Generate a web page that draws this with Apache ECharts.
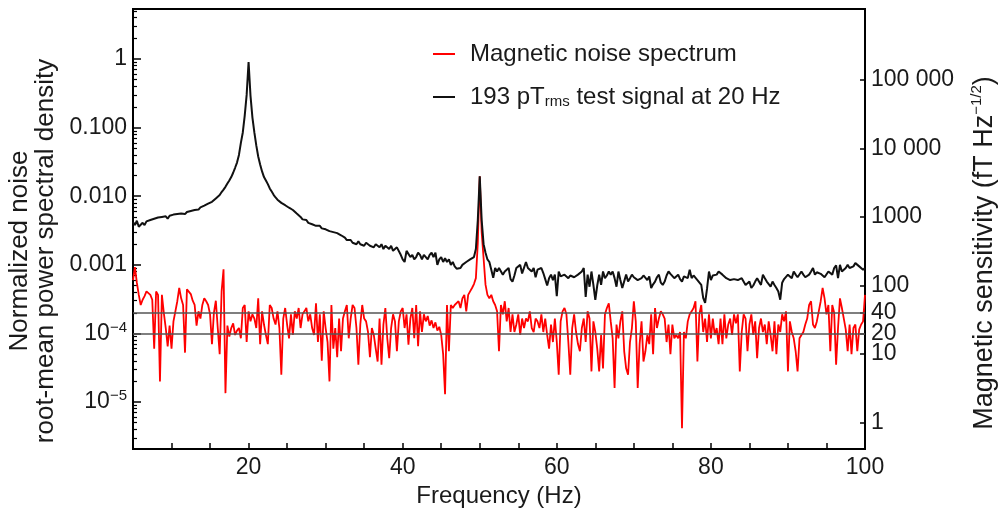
<!DOCTYPE html>
<html><head><meta charset="utf-8">
<script src="https://cdn.jsdelivr.net/npm/echarts@6/dist/echarts.min.js"></script>
<style>html,body{margin:0;padding:0;background:#fff}#c{width:998px;height:518px}</style>
</head><body><div id="c"></div>
<script>
// ---- data (frequency grid: 5 Hz to 100 Hz, 0.25 Hz spacing) ----
const FREQ_START = 5, FREQ_STEP = 0.25;
const seriesNames = ['Magnetic noise spectrum', '193 pTrms test signal at 20 Hz'];
// Magnetic noise spectrum, fT Hz^-1/2 (right axis)
const noiseFT = [
120,185,110,73,52,62,70,82,80,73,62,12,82,73,4,73,40,24,13,26,
12,30,42,59,92,65,52,10.5,88,85,75,60,52,26,42,33,52,65,59,52,
38,14,40,60,24,10,82,172,2.7,26,18,24,28,19,22,24,17,47,52,15,
42,30,38,33,24,65,14,42,27,19,14,52,47,33,27,42,24,5,33,47,
27,17,38,19,42,33,47,24,38,42,47,30,38,24,19,55,15,38,8,42,
24,15,4,52,12,24,9,33,11,33,42,52,17,33,52,47,24,7,27,52,
33,30,21,9,24,19,12,7.8,33,7,27,47,17,8.7,24,38,30,11,30,42,
47,24,38,13.7,33,47,17,52,13,42,21,38,30,36,26,31,24,29,22,25,
19,10,2.6,52,11,52,47,52,52,59,47,65,73,42,73,82,92,105,128,420,
3900,600,250,103,73,65,73,59,52,42,11,52,38,59,30,47,21,38,21,27,
38,19,33,24,33,30,42,24,21,33,30,24,38,21,33,19,12,27,15,33,
15,5,30,42,47,38,15,5,24,38,21,14,11,24,33,15,42,33,5.6,30,
21,12,5.6,19,6.2,38,47,55,30,17,3.2,27,17,30,42,11,6.2,5,15,24,
59,30,3.2,14,30,7.8,11,19,14,38,10,47,24,33,42,38,33,15,27,10,
27,17,19,17,21,0.83,21,17,30,38,42,47,59,7.8,38,52,21,33,15,38,
17,33,19,24,14,33,14,38,17,27,33,19,38,28,38,5.6,21,38,33,11,
27,38,19,30,8.7,24,33,21,27,14,30,19,11,30,10,27,21,38,30,42,
5.6,30,21,17,11,5.6,17,19,21,27,33,52,59,27,24,30,42,59,92,65,
38,52,11,52,40,7,24,65,47,33,23,11,27,10,24,27,11,23,27,30,
73
];
// 193 pT_rms test signal at 20 Hz, normalized (left axis)
const signalNorm = [
0.0042,0.0038,0.0044,0.0036,0.0035,0.0041,0.0038,0.0043,0.0042,0.0045,0.0044,0.0047,0.0045,0.0049,0.0046,0.0050,0.0048,0.0051,0.0047,0.0052,
0.0050,0.0054,0.0051,0.0055,0.0053,0.0056,0.0058,0.0055,0.0059,0.0057,0.0061,0.0060,0.0063,0.0066,0.0064,0.0069,0.0068,0.0073,0.0076,0.0078,
0.0080,0.0083,0.0087,0.0093,0.0098,0.0104,0.0115,0.0125,0.0137,0.0153,0.0170,0.019,0.022,0.026,0.031,0.040,0.060,0.085,0.15,0.30,
0.90,0.29,0.14,0.085,0.055,0.038,0.029,0.023,0.019,0.017,0.015,0.013,0.0117,0.0105,0.0096,0.0089,0.0084,0.0080,0.0077,0.0074,
0.0071,0.0068,0.0065,0.0063,0.0060,0.0056,0.0054,0.0050,0.0046,0.0044,0.0045,0.0041,0.0042,0.0039,0.0040,0.0037,0.0036,0.0037,0.0034,0.0035,
0.0033,0.0034,0.0031,0.0032,0.0030,0.0031,0.0029,0.0028,0.0027,0.0028,0.0025,0.0023,0.0022,0.0023,0.0021,0.0022,0.0020,0.0022,0.0020,0.0021,
0.0019,0.0021,0.0020,0.0019,0.0020,0.0018,0.0020,0.0019,0.0018,0.0020,0.0017,0.0019,0.0018,0.0017,0.0019,0.0016,0.0015,0.0018,0.0017,0.0014,
0.0012,0.0011,0.0016,0.0015,0.0013,0.0014,0.0012,0.0013,0.0015,0.0014,0.0012,0.0014,0.0013,0.0012,0.0014,0.0015,0.0013,0.0015,0.0010,0.0012,
0.0013,0.0011,0.00125,0.0011,0.0012,0.0010,0.0011,0.00095,0.00088,0.00085,0.0009,0.0010,0.00095,0.0011,0.00112,0.0012,0.00125,0.0013,0.0017,0.0045,
0.0195,0.0045,0.0020,0.0015,0.0012,0.0011,0.00085,0.00065,0.0009,0.0008,0.0009,0.0009,0.00072,0.0008,0.00085,0.0009,0.00062,0.00057,0.0007,0.0009,
0.00095,0.0010,0.00075,0.0008,0.0011,0.0009,0.00085,0.0008,0.0009,0.00066,0.00085,0.0009,0.0009,0.00076,0.00062,0.0005,0.00064,0.00072,0.0006,0.00072,
0.00035,0.0008,0.00068,0.00064,0.00072,0.00068,0.00064,0.0007,0.00072,0.00066,0.00064,0.00072,0.00076,0.0008,0.0009,0.00034,0.00072,0.00048,0.0008,0.00051,
0.00031,0.0005,0.00072,0.00051,0.0008,0.00064,0.0007,0.0008,0.00072,0.0008,0.00064,0.00048,0.0008,0.0006,0.00046,0.00046,0.00072,0.00057,0.00064,0.00072,
0.00066,0.00064,0.0006,0.00062,0.00064,0.0007,0.00072,0.0006,0.00068,0.00046,0.00052,0.00057,0.00066,0.00072,0.00055,0.00051,0.00057,0.0007,0.0008,0.00074,
0.00072,0.00064,0.00068,0.00072,0.00062,0.00057,0.00068,0.00072,0.00064,0.00085,0.00064,0.0007,0.00072,0.0006,0.00057,0.00051,0.00033,0.00028,0.00045,0.0008,
0.0006,0.0007,0.00066,0.00072,0.0008,0.00076,0.00072,0.00068,0.00064,0.00068,0.0006,0.00057,0.00062,0.00064,0.0006,0.00057,0.00064,0.0006,0.00051,0.00051,
0.00057,0.00046,0.0005,0.00057,0.00064,0.0006,0.00051,0.00072,0.00064,0.00057,0.00057,0.00048,0.00057,0.00051,0.00046,0.00041,0.00031,0.00055,0.00062,0.00066,
0.00072,0.00068,0.00064,0.0008,0.00072,0.00066,0.0007,0.0008,0.00072,0.00066,0.0007,0.00072,0.0008,0.0009,0.00072,0.00078,0.0008,0.00074,0.00072,0.00066,
0.0007,0.0008,0.00076,0.00072,0.0009,0.00098,0.00064,0.001,0.0008,0.00085,0.0009,0.001,0.0009,0.0009,0.00095,0.00106,0.001,0.00095,0.0009,0.00085,
0.0009
];
// tick labels
const xTickLabels = [20, 40, 60, 80, 100];
const leftMajorTicks = [1e-5, 1e-4, 1e-3, 1e-2, 1e-1, 1];
const rightTicks = [1, 10, 20, 40, 100, 1000, 10000, 100000];
const refLinesFT = [20, 40];

// ---- layout / scale settings ----
const LEFT_MIN = 2.07e-6, LEFT_MAX = 5.36, FT_PER_UNIT = 2e5;
const FONT = "'Liberation Sans', Arial, Helvetica, sans-serif";
const TXT = '#1a1a1a';
const leftMinorTicks = [];
for (let e = -6; e <= 0; e++) for (let k = 2; k <= 9; k++) {
  const v = k * Math.pow(10, e);
  if (v > LEFT_MIN && v < LEFT_MAX) leftMinorTicks.push(v);
}
const toPairs = arr => arr.map((v, i) => [FREQ_START + i * FREQ_STEP, v]);

function leftLabel(v) {
  const e = Math.round(Math.log10(v));
  if (e === 0) return '1';
  if (e >= -3) return Math.pow(10, e).toFixed(3);
  return '{b|10}{s|\u2212' + (-e) + '}';
}
function rightLabel(v) {
  const s = String(Math.round(v));
  return v >= 10000 ? s.replace(/\B(?=(\d{3})+(?!\d))/g, ' ') : s;
}

const chart = echarts.init(document.getElementById('c'), null, {renderer: 'canvas'});
const legendBase = {
  orient: 'horizontal', left: 428, icon: 'rect', itemWidth: 22, itemHeight: 2,
  selectedMode: false,
  textStyle: {fontFamily: FONT, fontSize: 24, color: TXT, padding: [0, 0, 0, 10]}
};
chart.setOption({
  animation: false,
  textStyle: {fontFamily: FONT},
  grid: {left: 133, right: 133, top: 9, bottom: 69, show: true, borderColor: '#000', borderWidth: 2,
         containLabel: false, outerBoundsMode: 'none'},
  legend: [
    Object.assign({}, legendBase, {data: [seriesNames[0]], top: 37}),
    Object.assign({}, legendBase, {
      data: [seriesNames[1]], top: 80,
      formatter: () => '193 pT{sub|rms} test signal at 20 Hz',
      textStyle: Object.assign({}, legendBase.textStyle, {
        rich: {sub: {fontFamily: FONT, fontSize: 15, color: TXT, verticalAlign: 'bottom', lineHeight: 15}}
      })
    })
  ],
  xAxis: {
    type: 'value', min: 5, max: 100, interval: 5,
    axisLine: {show: true, onZero: false, lineStyle: {color: '#000', width: 2}},
    axisTick: {show: true, inside: true, length: 6, lineStyle: {color: '#000', width: 1.5}},
    axisLabel: {margin: 7, fontSize: 23, color: TXT, fontFamily: FONT,
                formatter: v => (xTickLabels.indexOf(v) >= 0 ? String(v) : '')},
    splitLine: {show: false},
    name: 'Frequency (Hz)', nameLocation: 'middle', nameGap: 35,
    nameTextStyle: {fontSize: 24, color: TXT, fontFamily: FONT}
  },
  yAxis: [
    {
      type: 'log', logBase: 10, min: LEFT_MIN, max: LEFT_MAX, position: 'left',
      axisLine: {show: true, onZero: false, lineStyle: {color: '#000', width: 2}},
      axisTick: {show: true, inside: true, length: 8, customValues: leftMajorTicks,
                 lineStyle: {color: '#000', width: 1.5}},
      axisLabel: {customValues: leftMajorTicks, formatter: leftLabel, fontSize: 23, color: TXT,
                  fontFamily: FONT, margin: 6,
                  rich: {b: {fontSize: 23, color: TXT, fontFamily: FONT, lineHeight: 27},
                         s: {fontSize: 15, color: TXT, fontFamily: FONT, verticalAlign: 'top', lineHeight: 15}}},
      splitLine: {show: false}, minorTick: {show: false},
      name: 'Normalized noise\nroot-mean power spectral density',
      nameLocation: 'middle', nameGap: 72, nameRotate: 90,
      nameTextStyle: {fontSize: 26, lineHeight: 26, color: TXT, fontFamily: FONT, padding: [0, 44, 0, 0]}
    },
    {
      type: 'log', logBase: 10, min: LEFT_MIN, max: LEFT_MAX, position: 'left',
      axisLine: {show: false},
      axisTick: {show: true, inside: true, length: 4, customValues: leftMinorTicks,
                 lineStyle: {color: '#000', width: 1.2}},
      axisLabel: {show: false}, splitLine: {show: false}
    },
    {
      type: 'log', logBase: 10, min: LEFT_MIN * FT_PER_UNIT, max: LEFT_MAX * FT_PER_UNIT, position: 'right',
      axisLine: {show: true, onZero: false, lineStyle: {color: '#000', width: 2}},
      axisTick: {show: true, inside: true, length: 5, customValues: rightTicks,
                 lineStyle: {color: '#000', width: 1.5}},
      axisLabel: {customValues: rightTicks, formatter: rightLabel, fontSize: 23, color: TXT,
                  fontFamily: FONT, margin: 6},
      splitLine: {show: false},
      name: 'Magnetic sensitivity (fT Hz{sup|\u22121/2})',
      nameLocation: 'middle', nameGap: 104, nameRotate: 90,
      nameTextStyle: {fontSize: 27, color: TXT, fontFamily: FONT, lineHeight: 32, padding: [0, 48, 0, 0],
                      rich: {sup: {fontSize: 15, color: TXT, fontFamily: FONT, verticalAlign: 'top', lineHeight: 15}}}
    }
  ],
  series: [
    {
      name: seriesNames[0], type: 'line', xAxisIndex: 0, yAxisIndex: 2,
      data: toPairs(noiseFT), symbol: 'none', showSymbol: false, color: '#ff0000',
      lineStyle: {width: 1.8, color: '#ff0000'}, z: 2, emphasis: {disabled: true},
      markLine: {
        silent: true, symbol: ['none', 'none'], label: {show: false}, emphasis: {disabled: true},
        lineStyle: {color: '#555', width: 1.5, type: 'solid'},
        data: refLinesFT.map(v => ({yAxis: v}))
      }
    },
    {
      name: seriesNames[1], type: 'line', xAxisIndex: 0, yAxisIndex: 0,
      data: toPairs(signalNorm), symbol: 'none', showSymbol: false, color: '#111111',
      lineStyle: {width: 2, color: '#111111'}, z: 3, emphasis: {disabled: true}
    }
  ]
});
</script>
</body></html>
